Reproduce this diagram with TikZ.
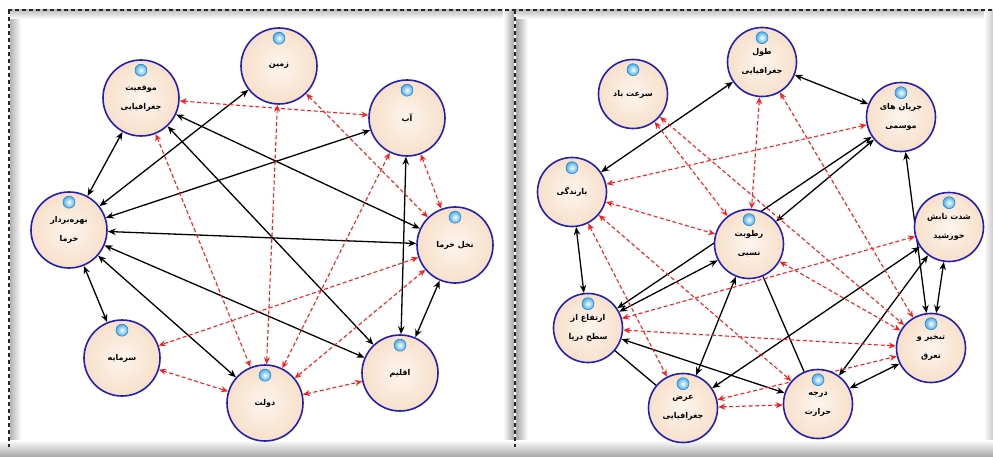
\documentclass[tikz,border=0pt]{standalone}
\usepackage{fontspec}
\usetikzlibrary{arrows.meta,shadings}
\newfontfamily\arabicfont[Script=Arabic,BoldFont={DejaVu Sans Bold}]{DejaVu Sans}
\TeXXeTstate=1
\newcommand\fatxt[1]{\beginR #1\endR}
\definecolor{nodeblue}{RGB}{35,30,180}
\definecolor{peach}{RGB}{247,224,202}
\definecolor{peachin}{RGB}{253,245,238}
\definecolor{redline}{RGB}{250,30,30}
\definecolor{ballc}{RGB}{70,175,235}
\definecolor{ballrim}{RGB}{40,120,200}
\pgfdeclarelayer{bg}
\pgfdeclarelayer{edges}
\pgfsetlayers{bg,edges,main}
\begin{document}
\begin{tikzpicture}[x=1pt,y=-1pt,
  nd/.style={circle, draw=nodeblue, line width=1.6pt, inner color=peachin, outer color=peach,
    minimum size=76pt, inner sep=0pt, align=center,
    font=\arabicfont\bfseries\fontsize{8}{19}\selectfont},
  nds/.style={nd, minimum size=69pt},
  blk/.style={draw=black, line width=1.3pt, {Stealth[length=8pt,width=6.5pt]}-{Stealth[length=8pt,width=6.5pt]}},
  blkn/.style={draw=black, line width=1.3pt},
  rd/.style={draw=redline, line width=1.1pt, dash pattern=on 4pt off 2.5pt,
    {Stealth[length=7pt,width=6pt,fill=redline]}-{Stealth[length=7pt,width=6pt,fill=redline]}},
  frame/.style={draw=black!85, line width=1.2pt, dash pattern=on 4pt off 3pt},
  ball/.style={inner color=white, outer color=ballc, draw=ballrim, line width=0.5pt}
]
\useasboundingbox (0,0) rectangle (993,457);
\begin{pgfonlayer}{bg}
  \fill[white] (0,0) rectangle (993,457);
  % inner shadows
  \shade[left color=black!30, right color=white] (10,10) rectangle (21,447);
  \shade[top color=black!25, bottom color=white] (10,10) rectangle (512,19);
  \shade[left color=white, right color=black!35] (503,10) rectangle (514,447);
  \shade[left color=black!35, right color=white] (516,10) rectangle (528,447);
  \shade[top color=black!25, bottom color=white] (516,10) rectangle (993,19);
  \shade[left color=white, right color=black!20] (984,10) rectangle (993,457);
  \shade[top color=white, bottom color=black!35] (0,440) rectangle (993,457);
  \coordinate (fa) at (8,10);
  \coordinate (fb) at (993,10);
  \coordinate (fc) at (9,10);
  \coordinate (fd) at (9,447);
  \coordinate (fe) at (515,10);
  \coordinate (ff) at (515,447);
  \draw[frame] (fa) -- (fb);
  \draw[frame] (fc) -- (fd);
  \draw[frame] (fe) -- (ff);
\end{pgfonlayer}

% ---------- left panel nodes ----------
\node[nd] (zamin)   at (279,66)  {\fatxt{زمین}};
\node[nd] (mowq)    at (141,98)  {\fatxt{موقعیت}\\\fatxt{جغرافیایی}};
\node[nd] (ab)      at (407,118) {\fatxt{آب}};
\node[nd] (bahre)   at (69,230)  {\fatxt{بهره‌بردار}\\\fatxt{خرما}};
\node[nd] (nakhl)   at (455,245) {\fatxt{نخل خرما}};
\node[nd] (sarmaye) at (122,358) {\fatxt{سرمایه}};
\node[nd] (dowlat)  at (265,403) {\fatxt{دولت}};
\node[nd] (eqlim)   at (400,373) {\fatxt{اقلیم}};

% ---------- right panel nodes ----------
\node[nds] (tul)       at (762,62)  {\fatxt{طول}\\\fatxt{جغرافیایی}};
\node[nds] (sorat)     at (633,94)  {\fatxt{سرعت باد}};
\node[nds] (jarayan)   at (901,117) {\fatxt{جریان های}\\\fatxt{موسمی}};
\node[nds] (barandegi) at (572,192) {\fatxt{بارندگی}};
\node[nds] (shedat)    at (949,227) {\fatxt{شدت تابش}\\\fatxt{خورشید}};
\node[nds] (rotubat)   at (749,244) {\fatxt{رطوبت}\\\fatxt{نسبی}};
\node[nds] (ertefa)    at (588,328) {\fatxt{ارتفاع از}\\\fatxt{سطح دریا}};
\node[nds] (tabkhir)   at (931,348) {\fatxt{تبخیر و}\\\fatxt{تعرق}};
\node[nds] (arz)       at (683,408) {\fatxt{عرض}\\\fatxt{جغرافیایی}};
\node[nds] (daraje)    at (818,404) {\fatxt{درجه}\\\fatxt{حرارت}};

\foreach \n in {zamin,mowq,ab,bahre,nakhl,sarmaye,dowlat,eqlim,tul,sorat,jarayan,barandegi,shedat,rotubat,ertefa,tabkhir,arz,daraje}
  \shade[ball] ([yshift=-11pt]\n.north) circle (6pt);

\begin{pgfonlayer}{edges}
% left black
\draw[blk] (mowq) -- (bahre);
\draw[blk] (zamin) -- (bahre);
\draw[blk] (ab) -- (bahre);
\draw[blk] (mowq) -- (nakhl);
\draw[blk] (mowq) -- (eqlim);
\draw[blk] (ab) -- (eqlim);
\draw[blk] (bahre) -- (nakhl);
\draw[blk] (bahre) -- (sarmaye);
\draw[blk] (bahre) -- (dowlat);
\draw[blk] (bahre) -- (eqlim);
\draw[blk] (nakhl) -- (eqlim);
% left red
\draw[rd] (mowq) -- (ab);
\draw[rd] (zamin) -- (dowlat);
\draw[rd] (zamin) -- (nakhl);
\draw[rd] (mowq) -- (dowlat);
\draw[rd] (ab) -- (dowlat);
\draw[rd] (ab) -- (nakhl);
\draw[rd] (nakhl) -- (sarmaye);
\draw[rd] (nakhl) -- (dowlat);
\draw[rd] (sarmaye) -- (dowlat);
\draw[rd] (dowlat) -- (eqlim);
% right black
\draw[blk] (tul) -- (barandegi);
\draw[blk] (tul) -- (jarayan);
\draw[blk] (ertefa) -- (jarayan);
\draw[blk] (ertefa) -- (rotubat);
\draw[blk] (jarayan) -- (rotubat);
\draw[blk] (jarayan) -- (tabkhir);
\draw[blk] (shedat) -- (tabkhir);
\draw[blk] (shedat) -- (arz);
\draw[blk] (shedat) -- (daraje);
\draw[blk] (barandegi) -- (ertefa);
\draw[blk] (rotubat) -- (arz);
\draw[blkn] (rotubat) -- (daraje);
\draw[blkn] (ertefa) -- (arz);
\draw[blk] (ertefa) -- (daraje);
\draw[blk] (daraje) -- (tabkhir);
% right red
\draw[rd] (tul) -- (rotubat);
\draw[rd] (tul) -- (tabkhir);
\draw[rd] (sorat) -- (rotubat);
\draw[rd] (sorat) -- (tabkhir);
\draw[rd] (jarayan) -- (barandegi);
\draw[rd] (barandegi) -- (rotubat);
\draw[rd] (barandegi) -- (daraje);
\draw[rd] (barandegi) -- (arz);
\draw[rd] (rotubat) -- (tabkhir);
\draw[rd] (ertefa) -- (shedat);
\draw[rd] (ertefa) -- (tabkhir);
\draw[rd] (arz) -- (tabkhir);
\draw[rd] (arz) -- (daraje);
\end{pgfonlayer}
\end{tikzpicture}
\end{document}
